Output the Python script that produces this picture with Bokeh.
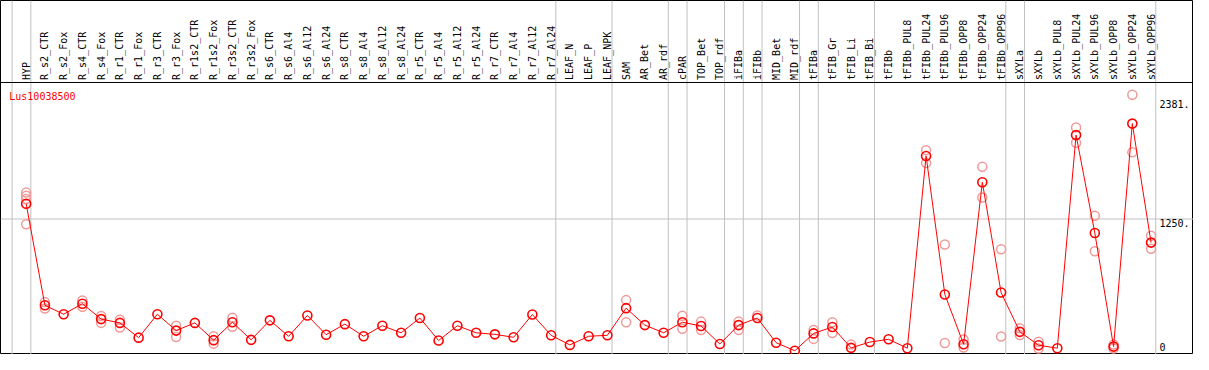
from bokeh.plotting import figure
from bokeh.models import Span, ColumnDataSource, Range1d
from bokeh.core.properties import value
from bokeh.embed import file_html
from bokeh.resources import INLINE

gene = "Lus10038500"

categories = [
    "HYP", "R_s2_CTR", "R_s2_Fox", "R_s4_CTR", "R_s4_Fox", "R_r1_CTR", "R_r1_Fox",
    "R_r3_CTR", "R_r3_Fox", "R_r1s2_CTR", "R_r1s2_Fox", "R_r3s2_CTR", "R_r3s2_Fox",
    "R_s6_CTR", "R_s6_Al4", "R_s6_Al12", "R_s6_Al24", "R_s8_CTR", "R_s8_Al4",
    "R_s8_Al12", "R_s8_Al24", "R_r5_CTR", "R_r5_Al4", "R_r5_Al12", "R_r5_Al24",
    "R_r7_CTR", "R_r7_Al4", "R_r7_Al12", "R_r7_Al24", "LEAF_N", "LEAF_P", "LEAF_NPK",
    "SAM", "AR_Bet", "AR_rdf", "cPAR", "TOP_Bet", "TOP_rdf", "iFIBa", "iFIBb",
    "MID_Bet", "MID_rdf", "tFIBa", "tFIB_Gr", "tFIB_Li", "tFIB_Bi", "tFIBb",
    "tFIBb_PUL8", "tFIBb_PUL24", "tFIBb_PUL96", "tFIBb_OPP8", "tFIBb_OPP24",
    "tFIBb_OPP96", "sXYLa", "sXYLb", "sXYLb_PUL8", "sXYLb_PUL24", "sXYLb_PUL96",
    "sXYLb_OPP8", "sXYLb_OPP24", "sXYLb_OPP96",
]

means = [
    1395, 431, 346, 446, 300, 264, 124,
    346, 191, 264, 100, 270, 103,
    288, 137, 334, 152, 252, 137,
    237, 170, 310, 97, 237, 170,
    155, 127, 343, 146, 55, 137, 146,
    404, 243, 170, 270, 234, 64, 243, 310,
    76, 0, 164, 225, 27, 82, 108,
    24, 1848, 534, 61, 1599,
    552, 179, 52, 24, 2046, 1117,
    39, 2155, 1026,
]

rep_names = [
    "HYP", "HYP", "HYP", "HYP",
    "R_s2_CTR", "R_s2_CTR", "R_s4_CTR", "R_s4_CTR", "R_s4_Fox", "R_s4_Fox",
    "R_r1_CTR", "R_r1_CTR", "R_r3_Fox", "R_r3_Fox", "R_r1s2_Fox", "R_r1s2_Fox",
    "R_r3s2_CTR", "R_r3s2_CTR", "SAM", "SAM", "cPAR", "cPAR", "TOP_Bet", "TOP_Bet",
    "iFIBa", "iFIBa", "iFIBb", "tFIBa", "tFIBa", "tFIB_Gr", "tFIB_Gr", "tFIB_Li",
    "tFIBb_PUL24", "tFIBb_PUL24", "tFIBb_PUL96", "tFIBb_PUL96",
    "tFIBb_OPP8", "tFIBb_OPP8", "tFIBb_OPP24", "tFIBb_OPP24",
    "tFIBb_OPP96", "tFIBb_OPP96", "sXYLa", "sXYLa", "sXYLb", "sXYLb",
    "sXYLb_PUL24", "sXYLb_PUL24", "sXYLb_PUL96", "sXYLb_PUL96",
    "sXYLb_OPP8", "sXYLb_OPP8", "sXYLb_OPP24", "sXYLb_OPP24",
    "sXYLb_OPP96", "sXYLb_OPP96",
]
rep_values = [
    1500, 1470, 1440, 1200,
    461, 400, 476, 416, 330, 264,
    294, 221, 237, 130, 137, 67,
    312, 228, 480, 270, 331, 209, 276, 197,
    276, 197, 334, 197, 112, 270, 167, 58,
    1903, 1781, 1008, 73,
    106, 30, 1745, 1454,
    962, 134, 212, 148, 85, 21,
    2119, 1973, 1281, 944,
    58, 21, 2428, 1882,
    1090, 968,
]

# group separators: drawn after these categories (and one before the first)
group_ends = ["HYP", "R_r7_Al24", "LEAF_NPK", "AR_rdf", "cPAR", "TOP_rdf", "iFIBa",
              "iFIBb", "MID_rdf", "tFIBa", "tFIB_Bi", "tFIBb_OPP96", "sXYLa",
              "sXYLb_OPP96"]

tick_values = [2381, 1250, 0]
tick_labels = ["2381.", "1250.", "0"]

# ---------------------------------------------------------------- layout
idx = {c: i for i, c in enumerate(categories)}
Y_BOTTOM, Y_TOP = -36, 3323
HEADER = 2545
GRID = "#c0c0c0"
RED = "#ff0000"
PINK = "#f09a9a"
MONO = value("DejaVu Sans Mono")

p = figure(width=1193, height=354,
           x_range=Range1d(-1.368, 62.263), y_range=Range1d(Y_BOTTOM, Y_TOP),
           x_axis_location=None, y_axis_location=None,
           output_backend="svg", toolbar_location=None, min_border=0)
p.xgrid.visible = False
p.ygrid.visible = False
p.outline_line_color = "black"
p.outline_line_width = 1
p.background_fill_color = "white"
p.border_fill_color = "white"

# vertical separators through header and plot
seps = [-0.75] + [idx[c] + 0.25 for c in group_ends]
for s in seps:
    p.add_layout(Span(location=s, dimension="height", line_color=GRID,
                      line_width=1, level="underlay"))

# horizontal gridline
p.add_layout(Span(location=tick_values[1], dimension="width", line_color=GRID,
                  line_width=1, level="underlay"))
# header separator
p.add_layout(Span(location=HEADER, dimension="width", line_color="black",
                  line_width=1))

# category labels (vertical)
lab_src = ColumnDataSource(dict(x=list(range(len(categories))),
                                y=[HEADER + 24] * len(categories),
                                t=categories))
p.text(x="x", y="y", text="t", source=lab_src, angle=1.5707963,
       text_align="left", text_baseline="middle", text_font=MONO,
       text_font_size="10px", text_color="black")

# replicates
rep_src = ColumnDataSource(dict(x=[idx[n] for n in rep_names], y=rep_values))
p.scatter(x="x", y="y", source=rep_src, marker="circle", size=9,
          fill_color=None, line_color=PINK, line_width=1.5)

# mean line + points
m_src = ColumnDataSource(dict(x=list(range(len(categories))), y=means))
p.line(x="x", y="y", source=m_src, line_color=RED, line_width=1)
p.scatter(x="x", y="y", source=m_src, marker="circle", size=9,
          fill_color=None, line_color=RED, line_width=1.6)

# gene title
p.text(x=[-0.9], y=[2465], text=[gene], text_align="left", text_baseline="top",
       text_font=MONO, text_font_size="10px", text_color=RED)

# value tick labels on the right
p.text(x=[60.45] * 2, y=tick_values[:2], text=tick_labels[:2], text_align="left",
       text_baseline="top", text_font=MONO, text_font_size="10px",
       text_color="black")
p.text(x=[60.45], y=tick_values[2:], text=tick_labels[2:], text_align="left",
       text_baseline="bottom", text_font=MONO, text_font_size="10px",
       text_color="black")

open("out.html", "w").write(file_html(p, INLINE))
